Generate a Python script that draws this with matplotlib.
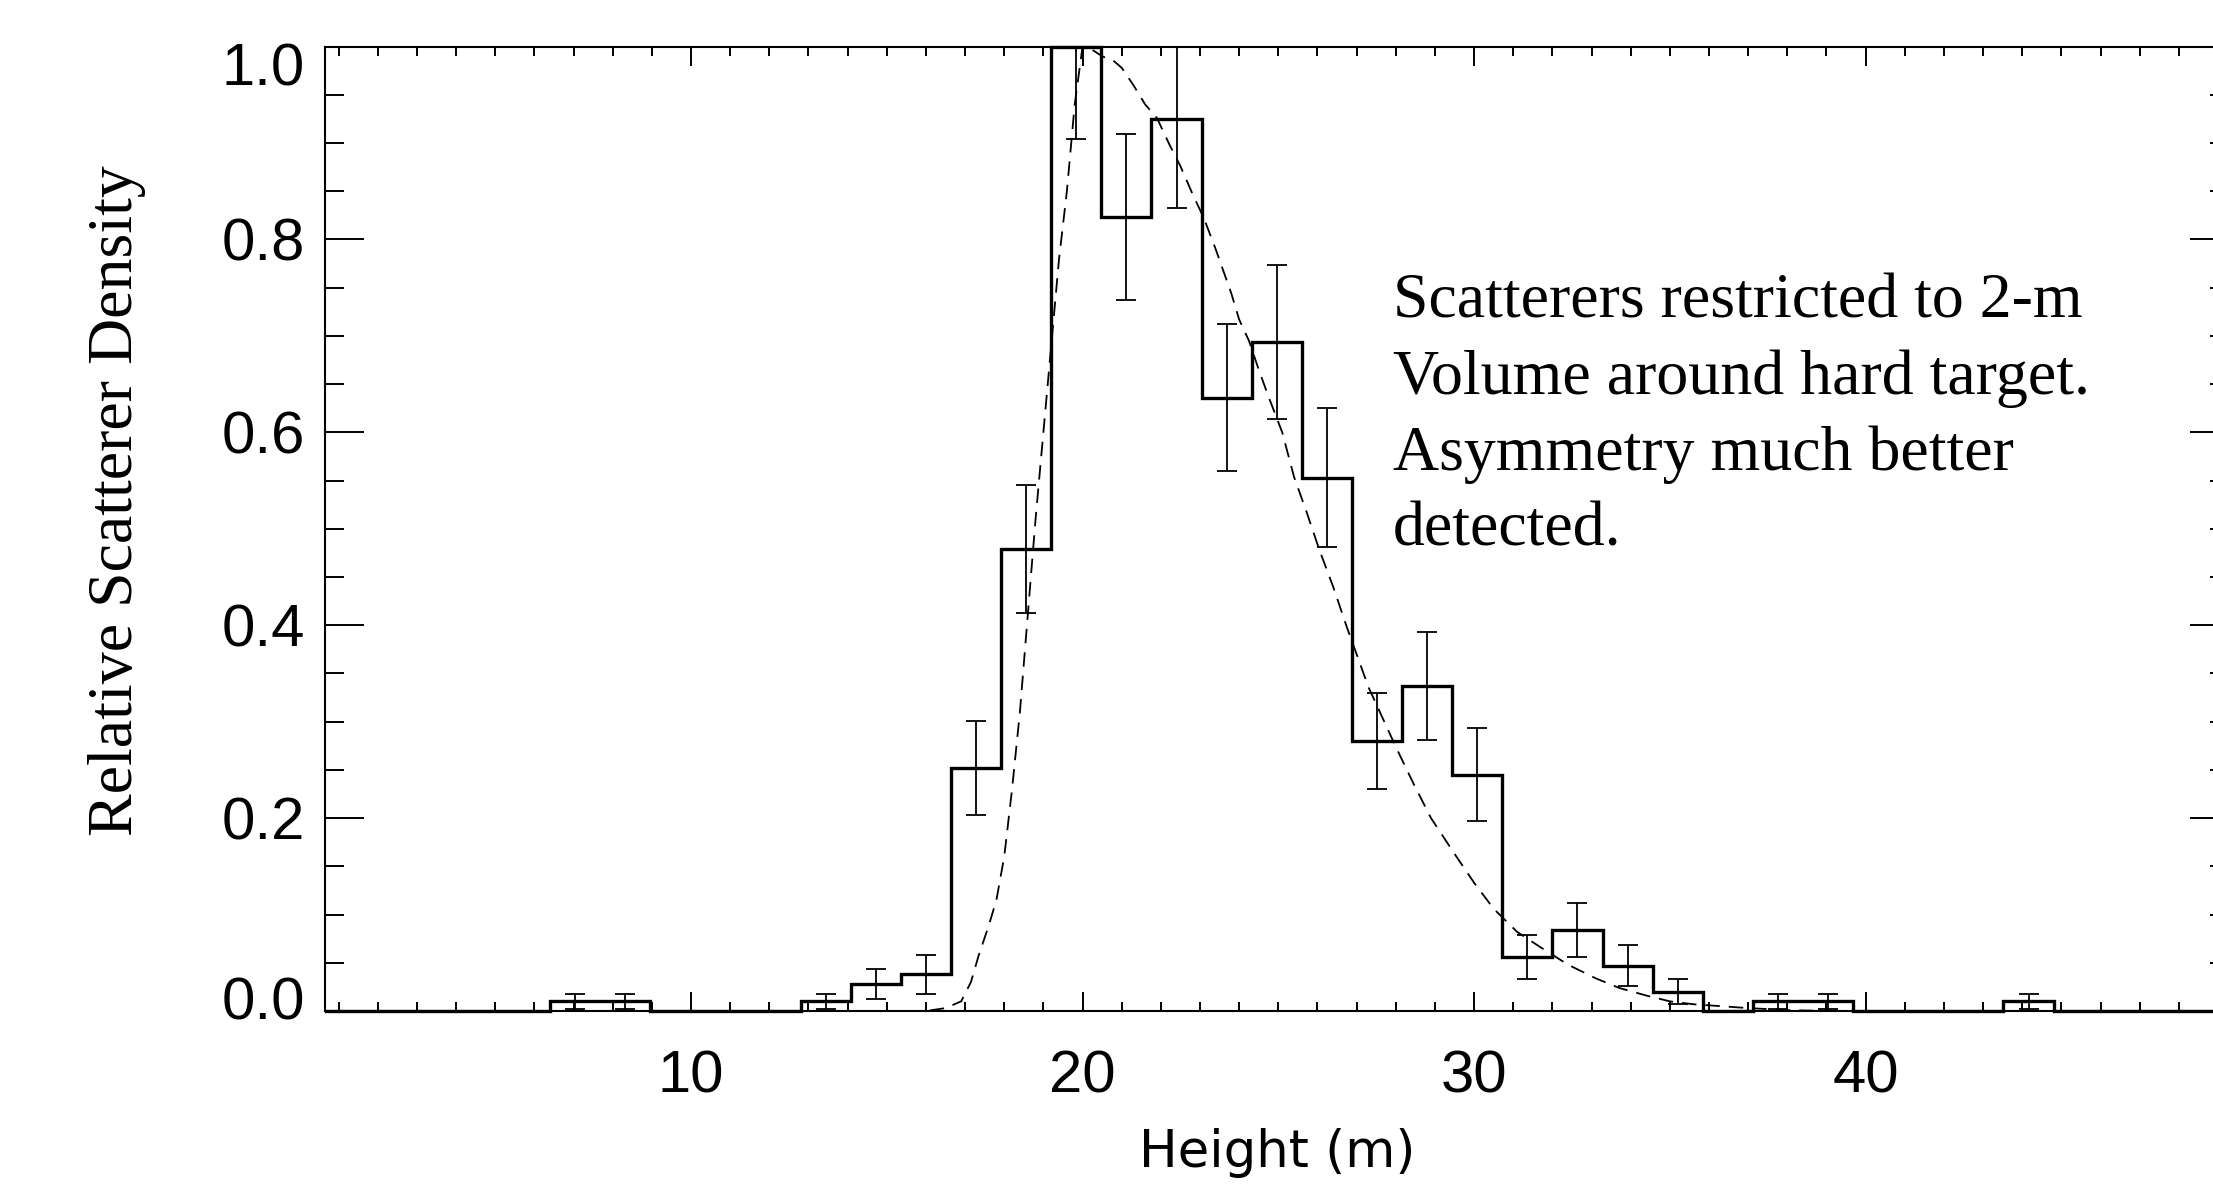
import numpy as np
import matplotlib
matplotlib.use('Agg')
import matplotlib.pyplot as plt
from matplotlib.patches import Rectangle
from matplotlib.ticker import MultipleLocator
from matplotlib.transforms import ScaledTranslation

# histogram of scatterer heights, bins of 1.28 m starting at 0
bin_width = 1.28
density = [0, 0, 0, 0, 0, 0.010, 0.010, 0, 0, 0,
           0.010, 0.028, 0.038, 0.252, 0.479, 1.000, 0.823, 0.925, 0.636, 0.694,
           0.553, 0.280, 0.337, 0.245, 0.056, 0.084, 0.047, 0.020, 0, 0.010,
           0.010, 0, 0, 0, 0.010, 0, 0, 0, 0]
density_err = [0, 0, 0, 0, 0, 0.008, 0.008, 0, 0, 0,
               0.008, 0.016, 0.020, 0.049, 0.066, 0.096, 0.086, 0.092, 0.076, 0.080,
               0.072, 0.050, 0.056, 0.048, 0.023, 0.028, 0.021, 0.013, 0, 0.008,
               0.008, 0, 0, 0, 0.008, 0, 0, 0, 0]

# fitted model (dashed)
fit_x = [15.5, 16.0, 16.5, 16.9, 17.15, 17.35, 17.6, 17.8, 18.0, 18.2, 18.4, 18.6,
         18.8, 19.0, 19.2, 19.4, 19.6, 19.8, 20.0, 20.2, 20.5, 20.8, 21.0, 21.3,
         21.6, 21.9, 22.2, 22.5, 22.8, 23.1, 23.4, 23.8, 24.0, 24.25, 24.5, 24.75,
         25.1, 25.4, 25.7, 26.05, 26.4, 26.75, 27.0, 27.3, 27.65, 28.0, 28.45, 28.9,
         29.5, 30.0, 30.5, 31.1, 31.7, 32.4, 33.1, 33.7, 34.4, 35.0, 35.6, 36.3,
         37.0, 38.0, 39.0]
fit_y = [0.0, 0.0, 0.003, 0.010, 0.030, 0.058, 0.088, 0.115, 0.160, 0.230, 0.310, 0.410,
         0.510, 0.600, 0.690, 0.780, 0.850, 0.940, 1.000, 0.998, 0.990, 0.985, 0.978, 0.960,
         0.940, 0.926, 0.900, 0.876, 0.848, 0.822, 0.790, 0.744, 0.717, 0.695, 0.665, 0.637,
         0.600, 0.554, 0.520, 0.478, 0.440, 0.398, 0.370, 0.336, 0.305, 0.274, 0.236, 0.200,
         0.163, 0.133, 0.106, 0.082, 0.066, 0.048, 0.034, 0.024, 0.016, 0.010, 0.007, 0.005,
         0.003, 0.001, 0.0]

note = ("Scatterers restricted to 2-m\n"
        "Volume around hard target.\n"
        "Asymmetry much better\n"
        "detected.")

density = np.array(density)
density_err = np.array(density_err)
edges = np.arange(len(density) + 1) * bin_width
centers = edges[:-1] + bin_width / 2

W, H = 2213, 1187
fig = plt.figure(figsize=(W / 100, H / 100), dpi=100)
# axes box in pixels: left 324.5, right 2229 (off the image), top 46.6, bottom 1011
ax = fig.add_axes([324.5 / W, (H - 1011) / H, (2229 - 324.5) / W, (1011 - 46.6) / H])

# let the thick step line show fully on the axis edges
clip = Rectangle((0, -0.02), 1, 1.04, transform=ax.transAxes,
                 facecolor='none', edgecolor='none')
step = ax.stairs(density, edges, color='black', linewidth=2.4)
step.set_clip_path(clip)

has = density > 0
ax.errorbar(centers[has], density[has], yerr=density_err[has], fmt='none',
            ecolor='black', elinewidth=1.3, capsize=7.4, capthick=1.3)

ax.plot(fit_x, fit_y, color='black', linewidth=1.3, linestyle=(0, (8, 5)))

ax.text(27.93, 0.765, note, va='top', ha='left',
        family='Liberation Serif', fontsize=46, linespacing=1.4)

ax.set_xlim(0.64, 49.28)
ax.set_ylim(0, 1.0)
ax.xaxis.set_major_locator(MultipleLocator(10))
ax.xaxis.set_minor_locator(MultipleLocator(1))
ax.yaxis.set_major_locator(MultipleLocator(0.2))
ax.yaxis.set_minor_locator(MultipleLocator(0.05))
ax.yaxis.set_major_formatter(plt.FormatStrFormatter('%.1f'))

ax.tick_params(which='both', direction='in', top=True, right=True,
               width=1.4, color='black', labelsize=43)
ax.tick_params(axis='x', which='major', length=13.7, pad=28)
ax.tick_params(axis='x', which='minor', length=6.8)
ax.tick_params(axis='y', which='major', length=28, pad=14)
ax.tick_params(axis='y', which='minor', length=13.7)
for lab in ax.get_xticklabels() + ax.get_yticklabels():
    lab.set_family('Liberation Sans')
for sp in ax.spines.values():
    sp.set_linewidth(1.5)

ax.set_xlabel('Height (m)', family='DejaVu Sans', fontsize=37)
ax.xaxis.set_label_coords(0.5, -0.121)

fig.text(117 / W, 1 - 501 / H, 'Relative Scatterer Density', rotation=90,
         ha='center', va='center', family='Liberation Serif', fontsize=46)

# IDL keeps the end labels inside the axis range
fig.canvas.draw()
locs = ax.yaxis.get_majorticklocs()
for tick, loc in zip(ax.yaxis.get_major_ticks(), locs):
    lab = tick.label1
    lab.set_family('Liberation Sans')
    if np.isclose(loc, 0.0):
        lab.set_transform(lab.get_transform() + ScaledTranslation(0, 0.13, fig.dpi_scale_trans))
    elif np.isclose(loc, 1.0):
        lab.set_transform(lab.get_transform() + ScaledTranslation(0, -0.17, fig.dpi_scale_trans))

fig.savefig('out.png', dpi=100)
